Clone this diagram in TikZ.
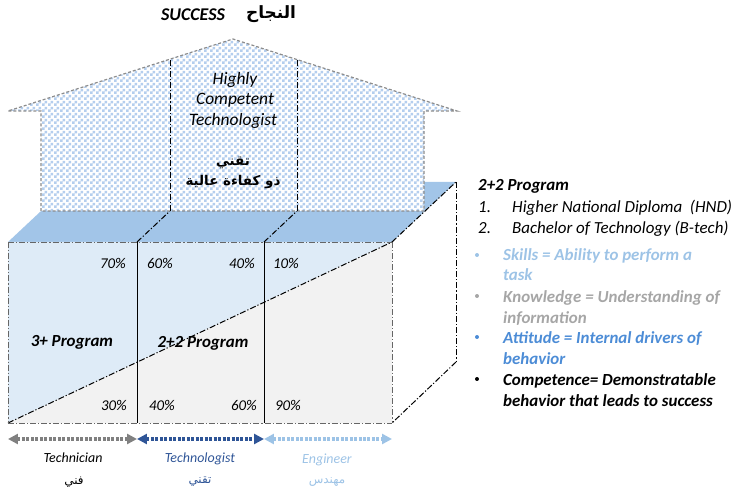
\documentclass[tikz,border=0pt]{standalone}
\usepackage{fontspec}
\setmainfont{Carlito}
\newfontfamily\arabicfont[Script=Arabic]{DejaVu Sans}
\TeXXeTstate=1
\usetikzlibrary{arrows.meta,patterns}
\pgfdeclarepatternformonly{checkers}{\pgfpoint{0bp}{0bp}}{\pgfpoint{6bp}{6bp}}{\pgfpoint{6bp}{6bp}}{%
  \pgfpathrectangle{\pgfpoint{0bp}{0bp}}{\pgfpoint{3bp}{3bp}}%
  \pgfpathrectangle{\pgfpoint{3bp}{3bp}}{\pgfpoint{3bp}{3bp}}%
  \pgfusepath{fill}}
\definecolor{chkblue}{RGB}{180,206,238}
\definecolor{topblue}{RGB}{162,197,232}
\definecolor{frontblue}{RGB}{222,235,247}
\definecolor{frontgray}{RGB}{242,242,242}
\definecolor{darkblue}{RGB}{47,85,151}
\definecolor{lightblue}{RGB}{157,195,230}
\definecolor{midblue}{RGB}{76,140,214}
\definecolor{knowgray}{RGB}{166,166,166}
\definecolor{arrgray}{RGB}{128,128,128}
\tikzset{
  dashdot/.style={dash pattern=on 6pt off 2pt on 1.2pt off 2pt, line width=1pt},
  edgegray/.style={dashdot, draw=black!60},
  housedge/.style={draw=black!45, dash pattern=on 3pt off 2pt, line width=1.2pt},
  pct/.style={font=\fontsize{15}{18}\selectfont\itshape},
  prog/.style={font=\fontsize{17}{20}\selectfont\bfseries\itshape},
  htxt/.style={font=\fontsize{17.5}{20}\selectfont\itshape},
  atxt/.style={font=\fontsize{13.5}{16}\selectfont\arabicfont\bfseries},
  role/.style={font=\fontsize{14}{17}\selectfont\itshape},
  rtxt/.style={anchor=base west, inner sep=0pt, font=\fontsize{17}{20}\selectfont\itshape},
  btxt/.style={anchor=base west, inner sep=0pt, font=\fontsize{17}{20}\selectfont\bfseries\itshape},
  span/.style={line width=4pt, dash pattern=on 3pt off 1.5pt, {Triangle[length=10pt,width=10pt]}-{Triangle[length=10pt,width=10pt]}}
}
\begin{document}
\begin{tikzpicture}[x=1bp,y=-1bp]
\useasboundingbox (0,0) rectangle (737,496);
% corners
\coordinate (ftl) at (8,242);
\coordinate (ftr) at (392,242);
\coordinate (fbl) at (8,423);
\coordinate (fbr) at (392,423);
\coordinate (btr) at (456,182);
\coordinate (btl) at (72,182);
\coordinate (bbr) at (456,362);
\coordinate (d1t) at (137,242);
\coordinate (d1b) at (137,423);
\coordinate (d2t) at (264,242);
\coordinate (d2b) at (264,423);
\coordinate (h1b) at (170,211);
\coordinate (h1t) at (170,59);
\coordinate (h2b) at (297,211);
\coordinate (h2t) at (297,60);
% top face
\fill[topblue] (ftl) -- (ftr) -- (btr) -- (btl) -- cycle;
% front face
\fill[frontblue] (ftl) -- (ftr) -- (fbl) -- cycle;
\fill[frontgray] (ftr) -- (fbr) -- (fbl) -- cycle;
\draw[dashdot] (fbl) -- (ftr);
\draw[edgegray] (ftl) -- (fbl);
\draw[edgegray] (ftl) -- (ftr);
\draw[edgegray] (ftr) -- (fbr);
\draw[edgegray] (fbl) -- (fbr);
\draw[line width=0.9pt] (d1t) -- (d1b);
\draw[line width=0.9pt] (d2t) -- (d2b);
% depth edges
\draw[dashdot] (d1t) -- (h1b);
\draw[dashdot] (d2t) -- (h2b);
\draw[dashdot] (ftr) -- (btr);
\draw[dashdot] (btr) -- (bbr);
\draw[dashdot] (bbr) -- (fbr);
% house
\coordinate (hw1) at (41,211);
\coordinate (hw2) at (41,111);
\coordinate (hr1) at (8,111);
\coordinate (apex) at (233,39);
\coordinate (hr2) at (457,111);
\coordinate (hw3) at (424,111);
\coordinate (hw4) at (424,211);
\fill[white] (hw1) -- (hw2) -- (hr1) -- (apex) -- (hr2) -- (hw3) -- (hw4) -- cycle;
\fill[pattern=checkers, pattern color=chkblue] (hw1) -- (hw2) -- (hr1) -- (apex) -- (hr2) -- (hw3) -- (hw4) -- cycle;
\draw[housedge] (hw1) -- (hw2) -- (hr1) -- (apex) -- (hr2) -- (hw3) -- (hw4) -- cycle;
\draw[dashdot] (h1b) -- (h1t);
\draw[dashdot] (h2b) -- (h2t);
% title
\node[font=\fontsize{18}{21}\selectfont\bfseries\itshape] (succ) at (193,15) {SUCCESS};
\node[font=\fontsize{17}{20}\selectfont\arabicfont\bfseries] (najah) at (271,14) {\beginR النجاح\endR};
% house text
\node[htxt] (hl1) at (235,80) {Highly};
\node[htxt] (hl2) at (235,100) {Competent};
\node[htxt] (hl3) at (233,121) {Technologist};
\node[atxt] (ha1) at (233,163) {\beginR تقني\endR};
\node[atxt] (ha2) at (233,182) {\beginR ذو كفاءة عالية\endR};
% percentages
\node[pct] (p1) at (113,263) {70\%};
\node[pct] (p2) at (160,263) {60\%};
\node[pct] (p3) at (242,263) {40\%};
\node[pct] (p4) at (286,263) {10\%};
\node[pct] (p5) at (114,405) {30\%};
\node[pct] (p6) at (162,405) {40\%};
\node[pct] (p7) at (244,405) {60\%};
\node[pct] (p8) at (288,405) {90\%};
\node[prog] (pg1) at (72,342) {3+ Program};
\node[prog] (pg2) at (203,343) {2+2 Program};
% spans
\coordinate (a0) at (8,439);
\coordinate (a1) at (137,439);
\coordinate (a2) at (264,439);
\coordinate (a3) at (392,439);
\draw[span, arrgray] (a0) -- (a1);
\draw[span, darkblue] (a1) -- (a2);
\draw[span, lightblue] (a2) -- (a3);
\node[role] (r1) at (73,458) {Technician};
\node[role, text=darkblue] (r2) at (200,459) {Technologist};
\node[role, text=lightblue] (r3) at (327,460) {Engineer};
\node[atxt, font=\fontsize{12}{15}\selectfont\arabicfont] (ra1) at (74,482) {\beginR فني\endR};
\node[atxt, font=\fontsize{12}{15}\selectfont\arabicfont, text=darkblue] (ra2) at (200,482) {\beginR تقني\endR};
\node[atxt, font=\fontsize{12}{15}\selectfont\arabicfont, text=lightblue] (ra3) at (327,482) {\beginR مهندس\endR};
% right text block
\node[btxt] (t0) at (478,191) {2+2 Program};
\node[rtxt] (n1) at (478,213) {1.};
\node[rtxt] (t1) at (512,213) {Higher National Diploma~~(HND)};
\node[rtxt] (n2) at (478,234) {2.};
\node[rtxt] (t2) at (512,234) {Bachelor of Technology (B-tech)};
\fill[lightblue] (477,255) circle (2pt);
\node[btxt, text=lightblue] (s1) at (503,261) {Skills = Ability to perform a};
\node[btxt, text=lightblue] (s2) at (503,281) {task};
\fill[knowgray] (477,296) circle (2pt);
\node[btxt, text=knowgray] (k1) at (503,302) {Knowledge = Understanding of};
\node[btxt, text=knowgray] (k2) at (503,323) {information};
\fill[midblue] (477,337) circle (2pt);
\node[btxt, text=midblue] (at1) at (503,343) {Attitude = Internal drivers of};
\node[btxt, text=midblue] (at2) at (503,364) {behavior};
\fill[black] (477,379) circle (2pt);
\node[btxt] (c1) at (503,385) {Competence= Demonstratable};
\node[btxt] (c2) at (503,406) {behavior that leads to success};
\end{tikzpicture}
\end{document}
